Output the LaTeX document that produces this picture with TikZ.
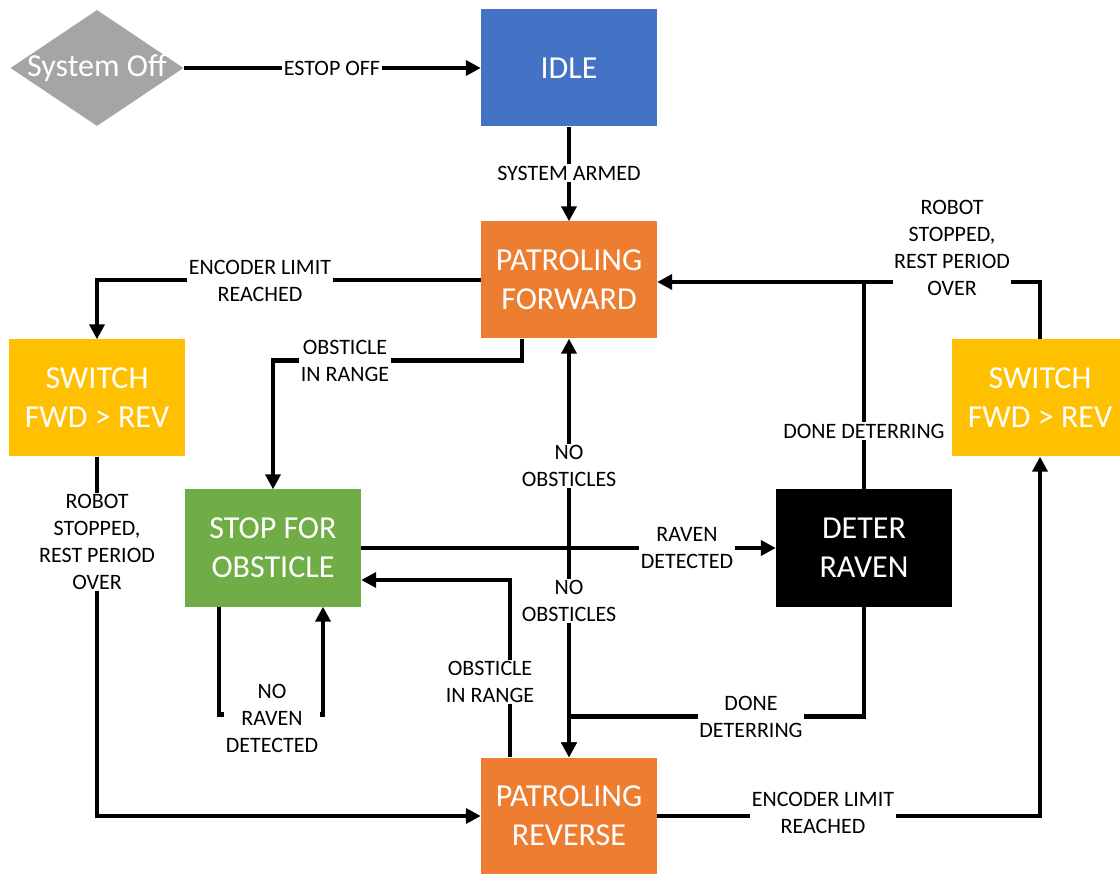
\documentclass[tikz,border=0pt]{standalone}
\usepackage{fontspec}
\setmainfont{Carlito}
\usetikzlibrary{arrows.meta,shapes.geometric}

\definecolor{offgray}{HTML}{A5A5A5}
\definecolor{idleblue}{HTML}{4472C4}
\definecolor{patrolorange}{HTML}{ED7D31}
\definecolor{switchyellow}{HTML}{FFC000}
\definecolor{stopgreen}{HTML}{70AD47}

\begin{document}
\begin{tikzpicture}[x=1pt,y=-1pt,
  state/.style={rectangle, minimum width=176pt, minimum height=117pt,
    inner sep=0pt, text=white, align=center,
    font=\fontsize{32}{39}\selectfont},
  link/.style={line width=4.5pt, -{Triangle[length=15pt,width=15pt]}},
  plain/.style={line width=4.5pt},
  tag/.style={fill=white, inner sep=1.5pt, align=center,
    font=\fontsize{22}{27}\selectfont},
]
\useasboundingbox (0,0) rectangle (1120,874);

% states
\node[diamond, fill=offgray, minimum width=173pt, minimum height=116pt,
      inner sep=0pt] (off) at (97,68) {};
\node[text=white, font=\fontsize{32}{39}\selectfont] (offtxt) at (off) {System Off};
\node[state, fill=idleblue]     (idle)  at (569,68)   {IDLE};
\node[state, fill=patrolorange] (pf)    at (569,280)  {PATROLING\\FORWARD};
\node[state, fill=switchyellow] (swl)   at (97,398)   {SWITCH\\FWD > REV};
\node[state, fill=switchyellow] (swr)   at (1040,398) {SWITCH\\FWD > REV};
\node[state, fill=stopgreen]    (stop)  at (273,548)  {STOP FOR\\OBSTICLE};
\node[state, fill=black]        (deter) at (864,548)  {DETER\\RAVEN};
\node[state, fill=patrolorange] (pr)    at (569,816)  {PATROLING\\REVERSE};

% helper points
\coordinate (hub) at (stop.east -| pf.south);
\coordinate (pfin) at ([yshift=-2pt]pf.east);
\coordinate (topjoin) at (pfin -| deter.north);

% transitions
\draw[link] (off.east) -- (idle.west);
\draw[link] (idle) -- (pf);
\draw[link] (pf.west) -| (swl.north);
\draw[link] (swl.south) |- (pr.west);
\draw[link] ([xshift=-47pt]pf.south) -- ++(0,22) -| (stop.north);
\draw[plain] (stop.east) -- (hub);
\draw[link] (hub) -- (deter.west);
\draw[link] (hub) -- (pf.south);
\draw[link] (hub) -- (pr.north);
\draw[link] ([xshift=-59pt]pr.north) |- ([yshift=-32pt]stop.east);
\draw[link] ([xshift=-54pt]stop.south) -- ++(0,108) -| ([xshift=50pt]stop.south);
\draw[link] (deter.south) -- ++(0,110) -| (pr.north);
\draw[link] (deter.north) |- (pfin);
\draw[plain] (swr.north) |- (topjoin);
\draw[link] (pr.east) -| (swr.south);

% transition labels
\node[tag] (l1)  at (332,68)  {ESTOP OFF};
\node[tag] (l2)  at (569,173) {SYSTEM ARMED};
\node[tag] (l3)  at (260,281) {ENCODER LIMIT\\REACHED};
\node[tag] (l4)  at (345,361) {OBSTICLE\\IN RANGE};
\node[tag] (l5)  at (97,542)  {ROBOT\\STOPPED,\\REST PERIOD\\OVER};
\node[tag] (l6)  at (569,466) {NO\\OBSTICLES};
\node[tag] (l7)  at (569,601) {NO\\OBSTICLES};
\node[tag] (l8)  at (687,548) {RAVEN\\DETECTED};
\node[tag] (l9)  at (490,682) {OBSTICLE\\IN RANGE};
\node[tag] (l10) at (272,718) {NO\\RAVEN\\DETECTED};
\node[tag] (l11) at (751,717) {DONE\\DETERRING};
\node[tag] (l12) at (864,431) {DONE DETERRING};
\node[tag] (l13) at (952,248) {ROBOT\\STOPPED,\\REST PERIOD\\OVER};
\node[tag] (l14) at (823,813) {ENCODER LIMIT\\REACHED};
\end{tikzpicture}
\end{document}
